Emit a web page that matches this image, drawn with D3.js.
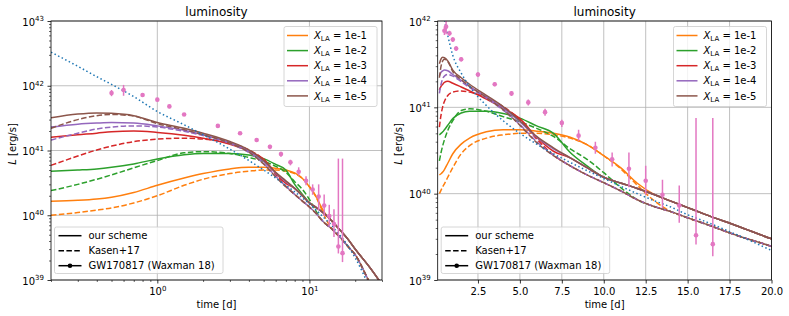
<!DOCTYPE html>
<html>
<head>
<meta charset="utf-8">
<script src="https://cdn.jsdelivr.net/npm/d3@7"></script>
<style>
  body { margin: 0; background: #fff; }
  text { font-family: "DejaVu Sans", sans-serif; fill: #000; }
</style>
</head>
<body>
<svg id="fig" width="789" height="316"></svg>
<script>
// time grid [d] shared by every model curve
var times = [0.2, 0.3, 0.4, 0.5, 0.7, 1, 1.5, 2, 3, 4, 5, 6, 7, 8, 9, 10, 11, 12, 13, 14, 15, 16, 18, 20, 25, 30];

var xlaLabels = ["1e-1", "1e-2", "1e-3", "1e-4", "1e-5"];
var colors = ["#ff7f0e", "#2ca02c", "#d62728", "#9467bd", "#8c564b"];

// our scheme (solid), L [erg/s]
var ours1 = [1.65e40, 1.7e40, 1.78e40, 1.9e40, 2.25e40, 2.9e40, 3.75e40, 4.4e40, 5.2e40, 5.5e40, 5.5e40, 5.3e40, 5.0e40, 4.5e40, 3.7e40, 2.75e40, 2.0e40, 1.32e40, 9.8e39, 8.2e39, 6.9e39, 5.8e39, 4.2e39, 3.0e39, 1.55e39, 8.5e38];
var ours2 = [4.8e40, 5.0e40, 5.2e40, 5.5e40, 6.2e40, 7.4e40, 8.6e40, 9.0e40, 9.0e40, 8.5e40, 7.5e40, 6.1e40, 5.0e40, 3.0e40, 2.1e40, 1.55e40, 1.33e40, 1.15e40, 9.8e39, 8.2e39, 6.9e39, 5.8e39, 4.2e39, 3.0e39, 1.55e39, 8.5e38];
var ours3 = [1.6e41, 1.75e41, 1.85e41, 1.95e41, 2.0e41, 1.9e41, 1.72e41, 1.55e41, 1.25e41, 9.8e40, 7.4e40, 4.5e40, 3.1e40, 2.6e40, 2.0e40, 1.55e40, 1.33e40, 1.15e40, 9.8e39, 8.2e39, 6.9e39, 5.8e39, 4.2e39, 3.0e39, 1.55e39, 8.5e38];
var ours4 = [2.3e41, 2.55e41, 2.65e41, 2.7e41, 2.65e41, 2.4e41, 2.05e41, 1.75e41, 1.33e41, 9.8e40, 6.8e40, 4.5e40, 3.3e40, 2.6e40, 2.0e40, 1.55e40, 1.33e40, 1.15e40, 9.8e39, 8.2e39, 6.9e39, 5.8e39, 4.2e39, 3.0e39, 1.55e39, 8.5e38];
var ours5 = [3.2e41, 3.65e41, 3.8e41, 3.75e41, 3.45e41, 2.7e41, 2.2e41, 1.85e41, 1.38e41, 1.02e41, 7.0e40, 4.6e40, 3.4e40, 2.6e40, 2.0e40, 1.55e40, 1.33e40, 1.15e40, 9.8e39, 8.2e39, 6.9e39, 5.8e39, 4.2e39, 3.0e39, 1.55e39, 8.5e38];

// Kasen+17 (dashed)
var kasen1 = [1.0e40, 1.1e40, 1.2e40, 1.3e40, 1.55e40, 2.0e40, 2.9e40, 3.6e40, 4.4e40, 4.8e40, 5.0e40, 5.0e40, 4.8e40, 4.4e40, 3.7e40, 2.75e40, 1.95e40, 1.25e40, 8.3e39, 6.2e39, 5.25e39, 4.5e39, 3.25e39, 2.45e39, 9.0e38, 4.5e38];
var kasen2 = [2.4e40, 3.0e40, 3.6e40, 4.2e40, 5.4e40, 7.0e40, 9.2e40, 9.6e40, 9.0e40, 7.8e40, 6.8e40, 5.7e40, 4.6e40, 3.3e40, 2.5e40, 1.75e40, 1.18e40, 8.5e39, 7.1e39, 6.2e39, 5.25e39, 4.5e39, 3.25e39, 2.45e39, 9.0e38, 4.5e38];
var kasen3 = [5.9e40, 8.2e40, 1.02e41, 1.17e41, 1.37e41, 1.5e41, 1.55e41, 1.5e41, 1.3e41, 1.02e41, 7.2e40, 4.3e40, 2.8e40, 2.1e40, 1.65e40, 1.34e40, 1.08e40, 8.5e39, 7.1e39, 6.2e39, 5.25e39, 4.5e39, 3.25e39, 2.45e39, 9.0e38, 4.5e38];
var kasen4 = [1.45e41, 1.85e41, 2.15e41, 2.3e41, 2.4e41, 2.3e41, 1.98e41, 1.7e41, 1.28e41, 9.3e40, 6.3e40, 4.0e40, 2.8e40, 2.1e40, 1.65e40, 1.34e40, 1.08e40, 8.5e39, 7.1e39, 6.2e39, 5.25e39, 4.5e39, 3.25e39, 2.45e39, 9.0e38, 4.5e38];
var kasen5 = [2.2e41, 3.0e41, 3.45e41, 3.6e41, 3.4e41, 2.6e41, 2.1e41, 1.75e41, 1.3e41, 9.4e40, 6.2e40, 3.9e40, 2.75e40, 2.1e40, 1.65e40, 1.34e40, 1.08e40, 8.5e39, 7.1e39, 6.2e39, 5.25e39, 4.5e39, 3.25e39, 2.45e39, 9.0e38, 4.5e38];

// radioactive heating rate (blue dotted)
var heating = [3.3e42, 2.0e42, 1.38e42, 1.05e42, 6.8e41, 4.0e41, 2.5e41, 1.75e41, 1.05e41, 7.0e40, 5.0e40, 3.75e40, 2.9e40, 2.3e40, 1.85e40, 1.5e40, 1.22e40, 1.0e40, 8.3e39, 7.0e39, 5.7e39, 4.8e39, 3.3e39, 2.2e39, 7.5e38, 3.0e38];

// GW170817 bolometric light curve (Waxman 18)
var obsT  = [0.5, 0.6, 0.8, 1.0, 1.2, 1.5, 2.5, 3.5, 4.5, 5.5, 6.5, 7.5, 8.5, 9.5, 10.5, 11.5, 12.5, 13.5, 14.5, 15.5, 16.5];
var obsL  = [7.7e41, 8.6e41, 7.2e41, 6.1e41, 4.8e41, 3.6e41, 2.4e41, 1.85e41, 1.45e41, 1.14e41, 8.8e40, 6.6e40, 4.7e40, 3.4e40, 2.5e40, 1.94e40, 1.41e40, 9.7e39, 7.3e39, 3.3e39, 2.6e39];
var obsLo = [6.9e41, 7.0e41, 6.7e41, 5.7e41, 4.5e41, 3.4e41, 2.25e41, 1.75e41, 1.35e41, 1.05e41, 8.0e40, 5.9e40, 4.1e40, 2.9e40, 2.07e40, 1.19e40, 9.7e39, 6.8e39, 4.6e39, 2.57e39, 1.89e39];
var obsHi = [8.6e41, 1.03e42, 7.7e41, 6.5e41, 5.1e41, 3.8e41, 2.55e41, 1.95e41, 1.55e41, 1.23e41, 9.6e40, 7.2e40, 5.5e40, 4.0e40, 3.0e40, 3.0e40, 2.1e40, 1.45e40, 1.24e40, 7.5e40, 7.5e40];

var oursAll = [ours1, ours2, ours3, ours4, ours5];
var kasenAll = [kasen1, kasen2, kasen3, kasen4, kasen5];

var svg = d3.select("#fig");
var Y0 = 21, Y1 = 280;

var panels = [
	{x0: 51, x1: 382, log: true, xdom: [0.2, 30], ydom: [1e39, 1e43], ylab: 15.5},
	{x0: 437.7, x1: 771.5, log: false, xdom: [0.1, 20], ydom: [1e39, 1e42], ylab: 402}
];

function pow10Label(sel, e) {
	sel.text("");
	sel.append("tspan").text("10");
	sel.append("tspan").attr("dy", -4.5).attr("font-size", 7).text(e);
}

function drawPanel(p, idx) {
	var g = svg.append("g");
	var x = (p.log ? d3.scaleLog() : d3.scaleLinear()).domain(p.xdom).range([p.x0, p.x1]);
	var y = d3.scaleLog().domain(p.ydom).range([Y1, Y0]);

	var e0 = Math.round(Math.log10(p.ydom[0])), e1 = Math.round(Math.log10(p.ydom[1]));
	var yMajor = d3.range(e0, e1 + 1).map(function(e) { return Math.pow(10, e); });
	var yMinor = [];
	d3.range(e0, e1).forEach(function(e) {
		for (var k = 2; k < 10; k++) yMinor.push(k * Math.pow(10, e));
	});

	var xMajor, xMinor = [];
	if (p.log) {
		xMajor = [1, 10];
		[0.1, 1, 10].forEach(function(b) {
			for (var k = 1; k < 10; k++) {
				var v = k * b;
				if (v >= p.xdom[0] && v <= p.xdom[1] && xMajor.indexOf(v) < 0) xMinor.push(v);
			}
		});
	} else {
		xMajor = d3.range(2.5, 20.01, 2.5);
	}

	// grid
	g.append("g").selectAll("line").data(xMajor).enter().append("line")
		.attr("x1", function(d) { return x(d); }).attr("x2", function(d) { return x(d); })
		.attr("y1", Y0).attr("y2", Y1)
		.attr("stroke", "#b0b0b0").attr("stroke-width", 0.8);
	g.append("g").selectAll("line").data(yMajor).enter().append("line")
		.attr("x1", p.x0).attr("x2", p.x1)
		.attr("y1", function(d) { return y(d); }).attr("y2", function(d) { return y(d); })
		.attr("stroke", "#b0b0b0").attr("stroke-width", 0.8);

	// curves
	var clipId = "clip" + idx;
	svg.append("clipPath").attr("id", clipId).append("rect")
		.attr("x", p.x0).attr("y", Y0).attr("width", p.x1 - p.x0).attr("height", Y1 - Y0);
	var plot = g.append("g").attr("clip-path", "url(#" + clipId + ")");

	var line = d3.line()
		.x(function(d) { return x(d[0]); })
		.y(function(d) { return y(d[1]); })
		.curve(d3.curveMonotoneX);
	var pairs = function(arr) { return times.map(function(t, i) { return [t, arr[i]]; }); };

	for (var i = 0; i < 5; i++) {
		plot.append("path").attr("d", line(pairs(oursAll[i])))
			.attr("fill", "none").attr("stroke", colors[i]).attr("stroke-width", 1.5);
		plot.append("path").attr("d", line(pairs(kasenAll[i])))
			.attr("fill", "none").attr("stroke", colors[i]).attr("stroke-width", 1.5)
			.attr("stroke-dasharray", "5.5,2.4");
	}
	plot.append("path").attr("d", line(pairs(heating)))
		.attr("fill", "none").attr("stroke", "#1f77b4").attr("stroke-width", 1.5)
		.attr("stroke-dasharray", "1.5,2.5");

	// observed points with error bars
	var obs = obsT.map(function(t, i) { return {t: t, L: obsL[i], lo: obsLo[i], hi: obsHi[i]}; });
	plot.append("g").selectAll("line").data(obs).enter().append("line")
		.attr("x1", function(d) { return x(d.t); }).attr("x2", function(d) { return x(d.t); })
		.attr("y1", function(d) { return y(d.lo); }).attr("y2", function(d) { return y(d.hi); })
		.attr("stroke", "#e377c2").attr("stroke-width", 1.5);
	plot.append("g").selectAll("circle").data(obs).enter().append("circle")
		.attr("cx", function(d) { return x(d.t); }).attr("cy", function(d) { return y(d.L); })
		.attr("r", 2.3).attr("fill", "#e377c2");

	// axes
	var xAxisG = g.append("g").attr("transform", "translate(0," + Y1 + ")");
	xAxisG.call(d3.axisBottom(x).tickValues(xMajor).tickSize(3.5).tickPadding(3.5)
		.tickFormat(p.log ? function(d) { return d; } : d3.format(".1f")));
	if (xMinor.length) {
		g.append("g").attr("transform", "translate(0," + Y1 + ")")
			.call(d3.axisBottom(x).tickValues(xMinor).tickSize(2).tickFormat(""))
			.call(function(s) { s.select(".domain").remove(); s.selectAll("line").attr("stroke-width", 0.6); });
	}
	xAxisG.select(".domain").remove();
	xAxisG.selectAll("line").attr("stroke-width", 0.8);
	xAxisG.selectAll("text").attr("font-size", 10).attr("font-family", "DejaVu Sans").attr("dy", null).attr("y", 15);
	if (p.log) {
		xAxisG.selectAll("text").each(function(d) { pow10Label(d3.select(this), Math.round(Math.log10(d))); });
	}

	var yAxisG = g.append("g").attr("transform", "translate(" + p.x0 + ",0)");
	yAxisG.call(d3.axisLeft(y).tickValues(yMajor).tickSize(3.5).tickPadding(3.5));
	g.append("g").attr("transform", "translate(" + p.x0 + ",0)")
		.call(d3.axisLeft(y).tickValues(yMinor).tickSize(2).tickFormat(""))
		.call(function(s) { s.select(".domain").remove(); s.selectAll("line").attr("stroke-width", 0.6); });
	yAxisG.select(".domain").remove();
	yAxisG.selectAll("line").attr("stroke-width", 0.8);
	yAxisG.selectAll("text").attr("font-size", 10).attr("font-family", "DejaVu Sans").attr("dy", null).attr("y", 4)
		.each(function(d) { pow10Label(d3.select(this), Math.round(Math.log10(d))); });

	// spines
	g.append("rect").attr("x", p.x0).attr("y", Y0).attr("width", p.x1 - p.x0).attr("height", Y1 - Y0)
		.attr("fill", "none").attr("stroke", "#000").attr("stroke-width", 0.8);

	// labels
	var cx = (p.x0 + p.x1) / 2;
	g.append("text").attr("x", cx).attr("y", 15.5).attr("text-anchor", "middle")
		.attr("font-size", 12).text("luminosity");
	g.append("text").attr("x", cx).attr("y", 308).attr("text-anchor", "middle")
		.attr("font-size", 10).text("time [d]");
	var yl = g.append("text").attr("transform", "translate(" + p.ylab + ",144) rotate(-90)")
		.attr("text-anchor", "middle").attr("font-size", 10);
	yl.append("tspan").attr("font-style", "italic").text("L");
	yl.append("tspan").text(" [erg/s]");

	// colour legend (upper right)
	var lw = 93, lh = 80;
	var lx = p.x1 - 5 - lw, ly = Y0 + 5.5;
	var lg = g.append("g");
	lg.append("rect").attr("x", lx).attr("y", ly).attr("width", lw).attr("height", lh).attr("rx", 2)
		.attr("fill", "#fff").attr("fill-opacity", 0.8).attr("stroke", "#ccc").attr("stroke-width", 0.8);
	xlaLabels.forEach(function(lab, i) {
		var cy = ly + 9 + 15.1 * i;
		lg.append("line").attr("x1", lx + 3).attr("x2", lx + 24).attr("y1", cy).attr("y2", cy)
			.attr("stroke", colors[i]).attr("stroke-width", 1.5);
		var t = lg.append("text").attr("x", lx + 30).attr("y", cy + 3.6).attr("font-size", 10);
		t.append("tspan").attr("font-style", "italic").text("X");
		t.append("tspan").attr("font-size", 7).attr("dy", 2).text("LA");
		t.append("tspan").attr("dy", -2).text(" = " + lab);
	});

	// style legend (lower left)
	var sw = 168.5, sh = 46.5;
	var sx = p.x0 + 3.5, sy = Y1 - 6.5 - sh;
	var sg = g.append("g");
	sg.append("rect").attr("x", sx).attr("y", sy).attr("width", sw).attr("height", sh).attr("rx", 2)
		.attr("fill", "#fff").attr("fill-opacity", 0.8).attr("stroke", "#ccc").attr("stroke-width", 0.8);
	var styles = [
		{label: "our scheme", dash: null, marker: false},
		{label: "Kasen+17", dash: "5.5,2.4", marker: false},
		{label: "GW170817 (Waxman 18)", dash: null, marker: true}
	];
	styles.forEach(function(s, i) {
		var cy = sy + 8.7 + 15 * i;
		sg.append("line").attr("x1", sx + 4).attr("x2", sx + 27).attr("y1", cy).attr("y2", cy)
			.attr("stroke", "#000").attr("stroke-width", 1.5).attr("stroke-dasharray", s.dash);
		if (s.marker) sg.append("circle").attr("cx", sx + 15.5).attr("cy", cy).attr("r", 2.3).attr("fill", "#000");
		sg.append("text").attr("x", sx + 34).attr("y", cy + 3.6).attr("font-size", 10).text(s.label);
	});
}

panels.forEach(drawPanel);
</script>
</body>
</html>
